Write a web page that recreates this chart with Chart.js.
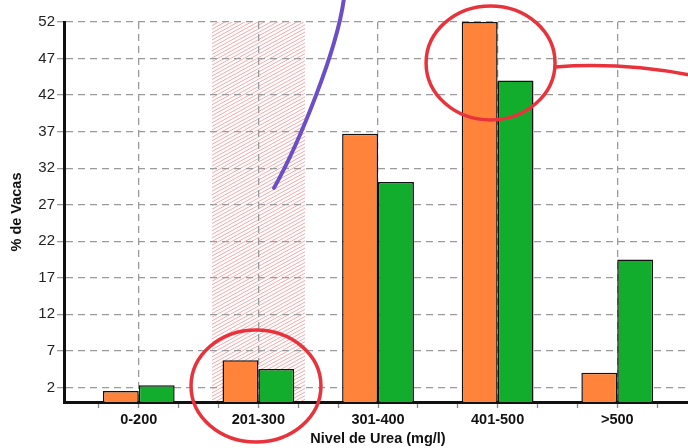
<!DOCTYPE html>
<html lang="es">
<head>
<meta charset="UTF-8">
<title>% de Vacas por Nivel de Urea</title>
<script src="https://cdn.jsdelivr.net/npm/chart.js"></script>
<style>
  html, body { margin: 0; padding: 0; overflow: hidden; background: #fff; }
</style>
</head>
<body>
<canvas id="myChart" width="692" height="448"></canvas>
<script>
// datos
const categories = ['0-200', '201-300', '301-400', '401-500', '>500'];
const seriesOrange = [1.5, 5.7, 36.7, 52, 4.0];
const seriesGreen = [2.3, 4.5, 30.1, 44, 19.5];
const yTickLabels = [2, 7, 12, 17, 22, 27, 32, 37, 42, 47, 52];

// zona rayada sobre 201-300 (en unidades del eje x)
const hatchRange = [0.612, 1.39];

// anotaciones a mano, en unidades de los ejes
const purpleCurve = [[1.131, 29.3], [1.34, 35.4], [1.66, 48.2], [1.716, 55.3]];
const redEllipses = [
  { cx: 0.98, cy: 2.19, rx: 0.543, ry: 7.66 },
  { cx: 2.941, cy: 46.4, rx: 0.539, ry: 7.8 }
];
const redLine = [[3.481, 45.84], [4.024, 46.53], [4.609, 44.75]];

const minorTicks = [];
for (let k = -1; k <= 13; k++) minorTicks.push(k / 3);

const GRID = '#9a9a9a';
const FONT = "'Liberation Sans', Arial, sans-serif";

const hatchPlugin = {
  id: 'hatch',
  beforeDraw(chart) {
    const { ctx, scales: { x, y } } = chart;
    const left = x.getPixelForValue(hatchRange[0]);
    const right = x.getPixelForValue(hatchRange[1]);
    const top = y.getPixelForValue(y.max);
    const bottom = y.getPixelForValue(0);
    const w = right - left;
    const rise = w * 0.55;
    ctx.save();
    ctx.beginPath();
    ctx.rect(left, top, w, bottom - top);
    ctx.clip();
    ctx.strokeStyle = 'rgba(238, 110, 112, 0.6)';
    ctx.lineWidth = 1;
    for (let k = top; k < bottom + rise; k += 3.6) {
      ctx.beginPath();
      ctx.moveTo(left, k);
      ctx.lineTo(right, k - rise);
      ctx.stroke();
    }
    ctx.restore();
  }
};

const notesPlugin = {
  id: 'notes',
  afterDraw(chart) {
    const { ctx, scales: { x, y } } = chart;
    const px = p => [x.getPixelForValue(p[0]), y.getPixelForValue(p[1])];
    ctx.save();
    ctx.lineCap = 'round';

    // linea morada
    const c = purpleCurve.map(px);
    ctx.strokeStyle = '#6a4fc6';
    ctx.lineWidth = 4;
    ctx.beginPath();
    ctx.moveTo(c[0][0], c[0][1]);
    ctx.bezierCurveTo(c[1][0], c[1][1], c[2][0], c[2][1], c[3][0], c[3][1]);
    ctx.stroke();

    // circulos rojos
    ctx.strokeStyle = '#e8333d';
    ctx.lineWidth = 3.5;
    redEllipses.forEach(e => {
      const cx = x.getPixelForValue(e.cx), cy = y.getPixelForValue(e.cy);
      const rx = Math.abs(x.getPixelForValue(e.cx + e.rx) - cx);
      const ry = Math.abs(y.getPixelForValue(e.cy + e.ry) - cy);
      ctx.beginPath();
      ctx.ellipse(cx, cy, rx, ry, 0, 0, Math.PI * 2);
      ctx.stroke();
    });

    // linea roja
    const r = redLine.map(px);
    ctx.beginPath();
    ctx.moveTo(r[0][0], r[0][1]);
    ctx.quadraticCurveTo(r[1][0], r[1][1], r[2][0], r[2][1]);
    ctx.stroke();
    ctx.restore();
  }
};

const ctx = document.getElementById('myChart').getContext('2d');
new Chart(ctx, {
  type: 'bar',
  data: {
    datasets: [{
      data: categories.map((c, i) => ({ x: i, y: seriesOrange[i] })),
      backgroundColor: '#ff833b',
      borderColor: '#111',
      borderWidth: 1.5
    }, {
      data: categories.map((c, i) => ({ x: i, y: seriesGreen[i] })),
      backgroundColor: '#12ad2d',
      borderColor: '#111',
      borderWidth: 1.5
    }]
  },
  options: {
    responsive: false,
    animation: false,
    layout: { padding: { top: 22, left: 0, right: 0, bottom: 0 } },
    datasets: { bar: { categoryPercentage: 0.6, barPercentage: 1.0 } },
    plugins: { legend: { display: false }, tooltip: { enabled: false } },
    scales: {
      x: {
        type: 'linear',
        position: 'bottom',
        offset: false,
        min: -0.625,
        max: 4.625,
        afterBuildTicks: s => { s.ticks = categories.map((c, i) => ({ value: i })); },
        afterFit: s => { s.height = 46; },
        grid: { color: GRID, lineWidth: 1.3, drawTicks: false, offset: false },
        border: { color: '#111', width: 3, dash: [7, 5] },
        ticks: {
          padding: 9,
          color: '#111',
          font: { family: FONT, size: 14.5, weight: 'bold' },
          callback: v => categories[v]
        },
        title: {
          display: true,
          text: 'Nivel de Urea (mg/l)',
          color: '#111',
          padding: 0,
          font: { family: FONT, size: 14.5, weight: 'bold' }
        }
      },
      xMinor: {
        type: 'linear',
        position: 'bottom',
        weight: -1,
        offset: false,
        min: -0.625,
        max: 4.625,
        afterBuildTicks: s => { s.ticks = minorTicks.map(v => ({ value: v })); },
        afterFit: s => { s.height = 0; },
        grid: { drawOnChartArea: false, tickLength: 6, tickColor: '#888', tickWidth: 1.3, offset: false },
        border: { display: false },
        ticks: { display: false }
      },
      y: {
        min: 0,
        max: 52,
        afterBuildTicks: s => { s.ticks = yTickLabels.map(v => ({ value: v })); },
        afterFit: s => { s.width = 64; },
        grid: { color: GRID, lineWidth: 1.3, tickLength: 7 },
        border: { color: '#111', width: 3, dash: [7, 5] },
        ticks: {
          padding: 2,
          color: '#222',
          font: { family: FONT, size: 15 }
        },
        title: {
          display: true,
          text: '% de Vacas',
          color: '#111',
          padding: { top: 8, bottom: 0 },
          font: { family: FONT, size: 14.5, weight: 'bold' }
        }
      }
    }
  },
  plugins: [hatchPlugin, notesPlugin]
});
</script>
</body>
</html>
